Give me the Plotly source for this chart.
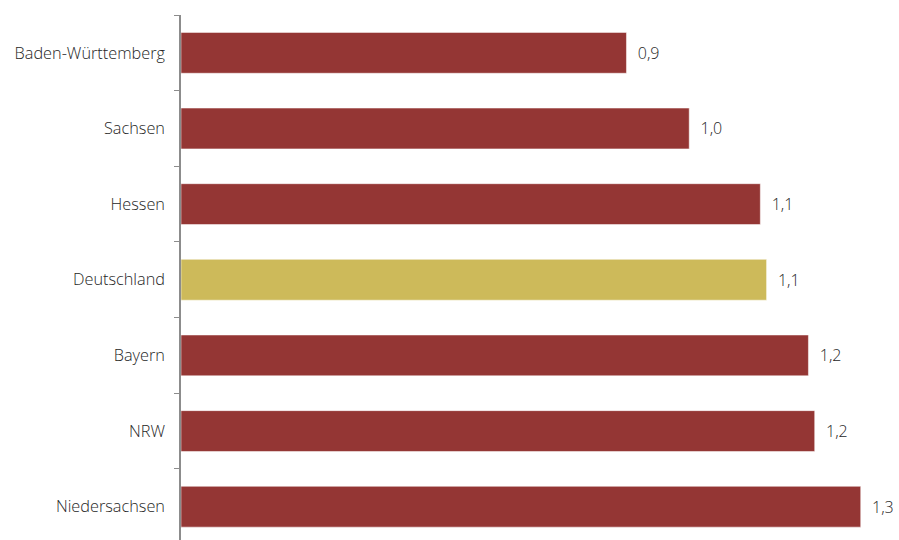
import plotly.graph_objects as go

categories = ["Baden-Württemberg", "Sachsen", "Hessen", "Deutschland", "Bayern", "NRW", "Niedersachsen"]
values = [0.852, 0.972, 1.108, 1.12, 1.2, 1.212, 1.3]
highlight = "Deutschland"

colors = ["#CDBA5A" if c == highlight else "#943634" for c in categories]

fig = go.Figure(go.Bar(
    y=categories, x=values, orientation="h",
    marker=dict(color=colors, line=dict(color="rgba(255,255,255,0.5)", width=1)),
    texttemplate="  %{x:.1f}", textposition="outside",
    textfont=dict(family="Open Sans", size=16, color="#262626", weight=300),
    cliponaxis=False,
))

fig.update_layout(
    width=899, height=540,
    margin=dict(l=181, r=9, t=15, b=0),
    paper_bgcolor="white", plot_bgcolor="white",
    separators=",.",
    bargap=0.46,
    showlegend=False,
    font=dict(family="Open Sans", size=16, color="#262626"),
    xaxis=dict(range=[0, 1.356], visible=False),
    yaxis=dict(
        type="category", range=[6.44, -0.5],
        showline=True, linecolor="#8c8c8c", linewidth=1.5,
        ticks="outside", ticklen=5, tickcolor="#8c8c8c", tickwidth=1,
        tickson="boundaries", ticklabelstandoff=11,
        showgrid=False, zeroline=False,
        tickfont=dict(family="Open Sans", size=16.3, color="#262626", weight=300),
    ),
)

fig.write_html("out.html")
